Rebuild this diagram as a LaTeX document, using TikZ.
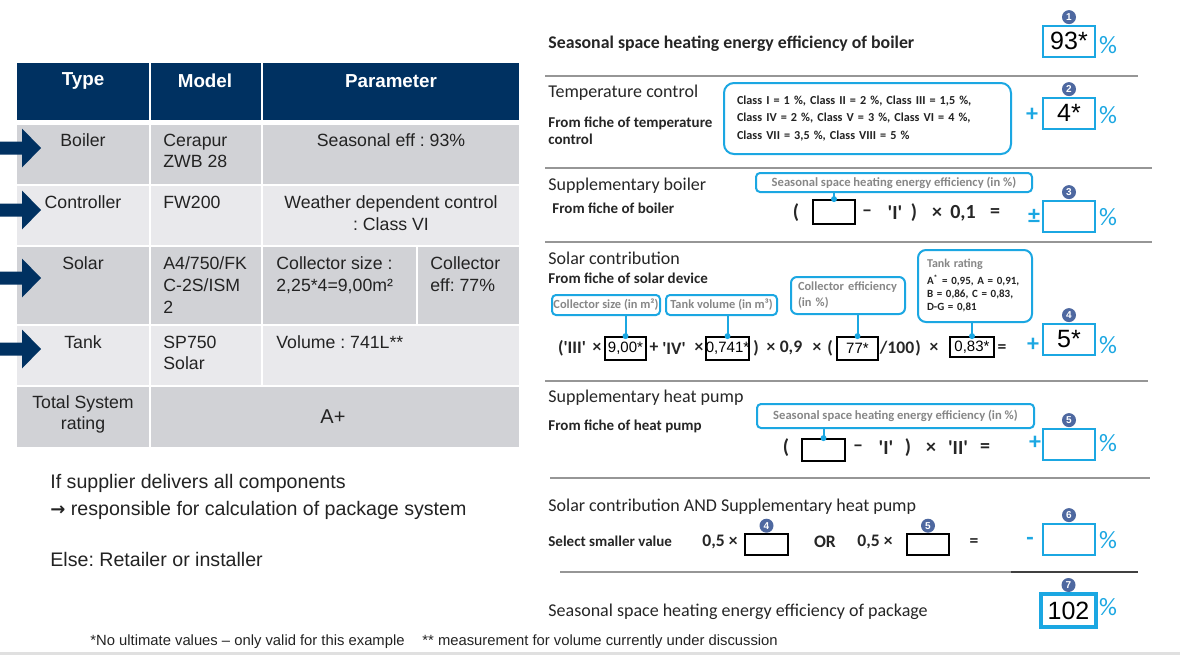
\documentclass[tikz,border=0pt]{standalone}
\usepackage{fontspec}
\setmainfont{Liberation Sans}
\newfontfamily\calfont{Carlito}
\newfontfamily\arrowfont{DejaVu Sans}
\definecolor{navy}{RGB}{0,49,97}
\definecolor{rowdark}{RGB}{209,210,214}
\definecolor{rowlight}{RGB}{233,233,236}
\definecolor{skyline}{RGB}{27,167,226}
\definecolor{badgeblue}{RGB}{78,104,160}
\definecolor{calloutgrey}{RGB}{135,135,135}
\definecolor{rulegrey}{RGB}{150,150,150}
\definecolor{inkgrey}{RGB}{35,35,35}
\newcommand{\quoted}[1]{\textquotesingle#1\textquotesingle}
\frenchspacing
\begin{document}
\begin{tikzpicture}[x=0.5pt,y=-0.5pt,
  cell/.style={inner sep=0pt,text=inkgrey,font=\fontsize{8.85}{10.85}\selectfont},
  headcell/.style={inner sep=0pt,text=white,font=\bfseries\fontsize{9.4}{11}\selectfont},
  remark/.style={inner sep=0pt,anchor=west,text=inkgrey,font=\fontsize{9.8}{12}\selectfont},
  footnote/.style={inner sep=0pt,anchor=west,text=inkgrey,font=\fontsize{7.4}{9}\selectfont},
  heading/.style={inner sep=0pt,anchor=west,text=black!85,font=\calfont\fontsize{9}{11}\selectfont},
  fiche/.style={inner sep=0pt,anchor=west,text=black!85,font=\calfont\bfseries\fontsize{7.5}{8.5}\selectfont},
  op/.style={inner sep=0pt,text=black!85,font=\calfont\bfseries\fontsize{10}{10}\selectfont},
  smallop/.style={op,font=\calfont\bfseries\fontsize{8.8}{9}\selectfont},
  hint/.style={draw=skyline,line width=1pt,rounded corners=2pt,inner sep=0pt,text=calloutgrey,font=\calfont\bfseries\fontsize{6.3}{7.5}\selectfont},
  inbox/.style={draw=black,line width=0.9pt,inner sep=0pt,minimum width=20.5pt,minimum height=11.5pt,font=\fontsize{7.5}{8}\selectfont},
  valbox/.style={draw=skyline,line width=1pt,inner sep=0pt,minimum width=26pt,minimum height=15.5pt,font=\fontsize{12.5}{13}\selectfont},
  badge/.style={circle,fill=badgeblue,text=white,inner sep=0pt,minimum size=7pt,font=\bfseries\fontsize{5}{5}\selectfont},
  opsign/.style={inner sep=0pt,text=skyline,font=\calfont\bfseries\fontsize{12}{12}\selectfont},
  pct/.style={inner sep=0pt,text=skyline,font=\calfont\fontsize{12.5}{13}\selectfont},
  sepline/.style={draw=rulegrey,line width=1.1pt},
  stem/.style={draw=skyline,line width=1pt},
  stemdot/.style={circle,fill=skyline,inner sep=0pt,minimum size=3pt}
]
\useasboundingbox (0,0) rectangle (1180,664);
\fill[white] (0,0) rectangle (1180,664);

% table
\fill[navy] (17,63) rectangle (519,120);
\foreach \ya/\yb/\shade in {125/184/rowdark,186/245/rowlight,247/324/rowdark,326/385/rowlight,387/447/rowdark}
  \fill[\shade] (17,\ya) rectangle (519,\yb);
\draw[white,line width=1pt] (150,63) -- (150,447) (262,63) -- (262,385) (417,247) -- (417,324);
\foreach \yc in {148,210,278,349}
  \fill[navy] (0,\yc-6.5) -- (22,\yc-6.5) -- (22,\yc-19.5) -- (41,\yc) -- (22,\yc+19.5) -- (22,\yc+6.5) -- (0,\yc+6.5) -- cycle;

\node[headcell] (typeh) at (83,81) {Type};
\node[headcell] (modelh) at (205,81) {Model};
\node[headcell] (paramh) at (391,81) {Parameter};
\node[cell] (boiler) at (83,140) {Boiler};
\node[cell,anchor=north west,align=left] (boilmodel) at (163,133.5) {Cerapur\\ZWB 28};
\node[cell] (boilparam) at (391,140) {Seasonal eff : 93\%};
\node[cell] (ctrl) at (83,202) {Controller};
\node[cell,anchor=west] (ctrlmodel) at (163,202) {FW200};
\node[cell,anchor=north,align=center] (ctrlparam) at (391,195.5) {Weather dependent control\\: Class VI};
\node[cell] (solar) at (83,263) {Solar};
\node[cell,anchor=north west,align=left] (solmodel) at (163,256.5) {A4/750/FK\\C-2S/ISM\\2};
\node[cell,anchor=north west,align=left] (solsize) at (276,256.5) {Collector size :\\2,25*4=9,00m²};
\node[cell,anchor=north west,align=left] (soleff) at (430,256.5) {Collector\\eff: 77\%};
\node[cell] (tank) at (83,342) {Tank};
\node[cell,anchor=north west,align=left] (tankmodel) at (163,335.5) {SP750\\Solar};
\node[cell,anchor=west] (tankvol) at (276,342) {Volume : 741L**};
\node[cell,align=center] (total) at (83,414.5) {Total System\\rating};
\node[cell,font=\fontsize{10}{12}\selectfont] (totalval) at (333,417) {A+};

% notes under the table
\node[remark] (supplier) at (50,483) {If supplier delivers all components};
\node[remark] (respons) at (50,510) {{\arrowfont\bfseries\fontsize{9}{12}\selectfont →} responsible for calculation of package system};
\node[remark] (retailer) at (50,559) {Else: Retailer or installer};
\node[footnote] (fnvalues) at (90,642) {*No ultimate values – only valid for this example};
\node[footnote] (fnvolume) at (422,642) {** measurement for volume currently under discussion};
\draw[black!12,line width=1.5pt] (0,653) -- (1180,653);

% separators of the form
\draw[sepline] (545,76) -- (1138,76);
\draw[sepline] (545,168) -- (1152,168);
\draw[sepline] (545,242) -- (1152,242);
\draw[sepline] (545,381) -- (1148,381);
\draw[sepline] (550,478) -- (1150,478);
\draw[sepline,line width=0.8pt] (560,572) -- (1138,572);
\draw[black!75,line width=1.4pt] (1011,572) -- (1138,572);

% result boxes
\foreach \k/\yy/\val in {1/41/93*,2/113/4*,3/216/,4/339/5*,5/444/,6/539/}
  \node[valbox] (v\k) at (1069,\yy) {\val};
\node[valbox,line width=1.6pt,minimum width=27.5pt,minimum height=16.5pt] (v7) at (1068.5,610.5) {102};
\foreach \k in {1,...,7}
  \node[badge,anchor=south] (n\k) at (v\k.north) {\k};
\foreach \k/\yy in {1/45,2/115,3/217,4/345,5/443,6/540,7/607}
  \node[pct] (p\k) at (1108,\yy) {\%};
\node[opsign] (s2) at (1032,115) {+};
\node[opsign] (s3) at (1034,216) {±};
\node[opsign] (s4) at (1033,345) {+};
\node[opsign] (s5) at (1035,443) {+};
\node[opsign] (s6) at (1030,541) {-};

% boiler and temperature control
\node[heading,font=\calfont\bfseries\fontsize{8.9}{11}\selectfont] (effboiler) at (548,44) {Seasonal space heating energy efficiency of boiler};
\node[heading] (tempctrl) at (548,93) {Temperature control};
\node[fiche,anchor=north west,align=left] (tempfiche) at (548,116.5) {From fiche of temperature\\control};
\node[hint,rounded corners=5pt,anchor=north west,text width=130.5pt,inner xsep=6.5pt,minimum height=35.5pt,align=left,
  text=inkgrey,font=\calfont\bfseries\fontsize{6.1}{8.6}\selectfont] (classes) at (723,82)
  {Class I = 1 \%, Class II = 2 \%, Class III = 1,5 \%,\\Class IV = 2 \%, Class V = 3 \%, Class VI = 4 \%,\\Class VII = 3,5 \%, Class VIII = 5 \%};

% supplementary boiler
\node[heading] (suppboil) at (548,186) {Supplementary boiler};
\node[fiche] (boilfiche) at (552,208) {From fiche of boiler};
\node[hint,minimum width=138pt,minimum height=9.5pt] (sbhint) at (894,182.5) {Seasonal space heating energy efficiency (in \%)};
\node[op] (sbopen) at (796,213) {(};
\node[inbox,minimum width=21pt,minimum height=12pt] (sbin) at (834,212) {};
\node[op] (sbminus) at (867,213) {–};
\node[op] (sbone) at (895,213) {\quoted{I}};
\node[op] (sbclose) at (914,213) {)};
\node[op] (sbtimes) at (937,213) {×};
\node[op] (sbfactor) at (963,213) {0,1};
\node[op] (sbeq) at (995,213) {=};
\draw[stem] (sbin.north) -- (sbin.north |- sbhint.south);
\node[stemdot] (sbdot) at (sbin.north) {};

% solar contribution
\node[heading] (solcontr) at (548,258) {Solar contribution};
\node[fiche] (solfiche) at (548,278) {From fiche of solar device};
\node[hint,minimum width=54pt,minimum height=10pt,font=\calfont\bfseries\fontsize{6.2}{7.5}\selectfont] (cshint) at (606,305) {Collector size (in m²)};
\node[hint,minimum width=55.5pt,minimum height=10pt,font=\calfont\bfseries\fontsize{6.2}{7.5}\selectfont] (tvhint) at (721.5,305) {Tank volume (in m³)};
\node[hint,rounded corners=3pt,text width=50pt,inner xsep=3.5pt,minimum height=18.5pt,align=left,
  font=\calfont\bfseries\fontsize{6.2}{8}\selectfont] (cehint) at (848,295.5) {Collector efficiency\\(in \%)};
\node[hint,rounded corners=4pt,text width=48pt,inner xsep=4.5pt,minimum height=36pt,align=left,
  text=inkgrey,font=\calfont\bfseries\fontsize{5.5}{6.5}\selectfont] (trhint) at (975,286)
  {{\color{calloutgrey}\fontsize{6}{6.5}\selectfont Tank rating}\\[2pt]A\textsuperscript{*} = 0,95, A = 0,91,\\B = 0,86, C = 0,83,\\D-G = 0,81};
\node[smallop] (sothree) at (572,348) {(\quoted{III}};
\node[smallop] (sotimes) at (597,348) {×};
\node[inbox] (bsize) at (625.5,348.5) {9,00*};
\node[smallop] (soplus) at (654,348) {+};
\node[smallop] (sofour) at (674,348) {\quoted{IV}};
\node[smallop] (sotimesb) at (699,348) {×};
\node[inbox] (bvol) at (727.5,348.5) {0,741*};
\node[smallop] (soclose) at (756,348) {)};
\node[smallop] (sotimesc) at (771,348) {×};
\node[smallop] (sonine) at (791,348) {0,9};
\node[smallop] (sotimesd) at (817,348) {×};
\node[smallop] (soopenb) at (830,348) {(};
\node[inbox] (beff) at (857.5,348.5) {77*};
\node[smallop] (sohundred) at (897,348) {/100};
\node[smallop] (soclosec) at (918,348) {)};
\node[smallop] (sotimese) at (934,348) {×};
\node[inbox,minimum width=22pt,minimum height=10pt] (brat) at (972,347) {0,83*};
\node[smallop] (soeq) at (1002,349) {=};
\foreach \bx/\tip in {bsize/cshint,bvol/tvhint,beff/cehint,brat/trhint}{
  \draw[stem] (\bx.north) -- (\bx.north |- \tip.south);
  \node[stemdot] (\bx dot) at (\bx.north) {};
}

% supplementary heat pump
\node[heading] (supphp) at (548,398) {Supplementary heat pump};
\node[fiche] (hpfiche) at (548,426) {From fiche of heat pump};
\node[hint,minimum width=138.5pt,minimum height=12pt] (hphint) at (895.5,416) {Seasonal space heating energy efficiency (in \%)};
\node[op] (hpopen) at (786,448) {(};
\node[inbox,minimum width=21.5pt,minimum height=11pt] (hpin) at (823.5,450) {};
\node[op] (hpminus) at (858,448) {–};
\node[op] (hpone) at (886,448) {\quoted{I}};
\node[op] (hpclose) at (908,448) {)};
\node[op] (hptimes) at (931,448) {×};
\node[op] (hptwo) at (958,448) {\quoted{II}};
\node[op] (hpeq) at (985,448) {=};
\draw[stem] (hpin.north) -- (hpin.north |- hphint.south);
\node[stemdot] (hpdot) at (hpin.north) {};

% smaller of the two
\node[heading] (solhp) at (548,507) {Solar contribution AND Supplementary heat pump};
\node[fiche] (smaller) at (548,541) {Select smaller value};
\node[smallop] (halfa) at (720,542) {0,5 ×};
\node[inbox,minimum width=21.5pt,minimum height=10.5pt] (sel4) at (766.5,544.5) {};
\node[badge,anchor=south] (selb4) at (sel4.north) {4};
\node[smallop] (orword) at (825,542) {OR};
\node[smallop] (halfb) at (875,542) {0,5 ×};
\node[inbox,minimum width=21pt,minimum height=10.5pt] (sel5) at (928,544.5) {};
\node[badge,anchor=south] (selb5) at (sel5.north) {5};
\node[smallop] (seleq) at (974,543) {=};

% package
\node[heading] (effpack) at (548,612) {Seasonal space heating energy efficiency of package};
\end{tikzpicture}
\end{document}
